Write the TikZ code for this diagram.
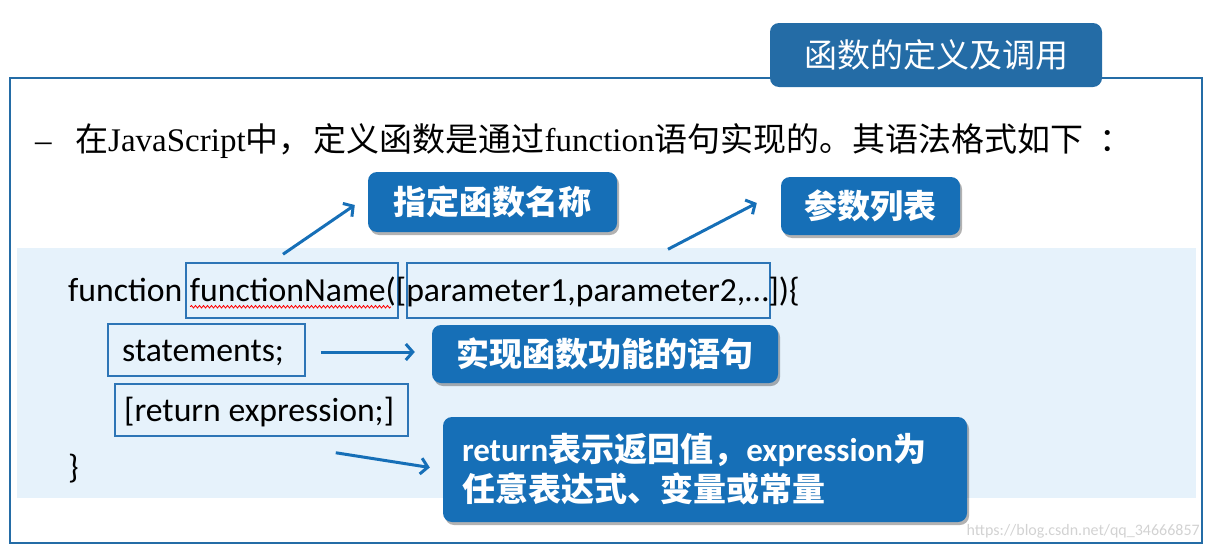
\documentclass[tikz,border=0pt]{standalone}
\usepackage{fontspec}
\setmainfont{Liberation Serif}
\newfontfamily\cjk{Noto Sans CJK SC}
\newfontfamily\calfont{Carlito}
\usetikzlibrary{arrows.meta,shadows,decorations.pathmorphing}
\definecolor{dblue}{RGB}{22,111,183}
\definecolor{frameblue}{RGB}{36,108,166}
\definecolor{band}{RGB}{230,242,251}
\definecolor{cbox}{RGB}{45,117,182}
\tikzset{
  callout/.style={fill=dblue, rounded corners=9pt, text=white, inner sep=0pt,
    font=\cjk\bfseries\fontsize{33}{40}\selectfont,
    drop shadow={shadow xshift=2pt, shadow yshift=-3pt, fill=black, opacity=0.3}},
  codebox/.style={draw=cbox, line width=1.5pt, inner sep=0pt},
  arr/.style={draw=dblue, line width=3pt, -{Straight Barb[length=7pt,width=16pt,line width=3pt]}},
  code/.style={font=\calfont\fontsize{33.7}{40}\selectfont, inner sep=0pt, anchor=base west},
}
\begin{document}
\begin{tikzpicture}[x=1pt,y=-1pt]
\useasboundingbox (0,0) rectangle (1216,554);
% frame and band
\draw[frameblue, line width=2pt] (10,78) rectangle (1202,543);
\fill[band] (17,248) rectangle (1196,498);
% title
\node[fill=frameblue, rounded corners=9pt, minimum width=332pt, minimum height=64pt, inner sep=0pt,
  text=white, font=\cjk\fontsize{33}{40}\selectfont] (title) at (936,55) {函数的定义及调用};
% intro line
\node[inner sep=0pt, anchor=base west, font=\fontsize{33}{40}\selectfont] (dash) at (35,151) {–};
\node[inner sep=0pt, anchor=base west, font=\fontsize{33}{40}\selectfont] (intro) at (75,151)
  {{\cjk 在}JavaScript{\cjk 中，}\hspace{2pt}{\cjk 定义函数是通过}function{\cjk 语句实现的。其语法格式如下}\hspace{16pt}{\cjk ：}};
% code boxes
\node[codebox, minimum width=212pt, minimum height=55pt] (fnbox) at (292,290.5) {};
\node[codebox, minimum width=363pt, minimum height=55pt] (parbox) at (588.5,290.5) {};
\node[codebox, minimum width=197pt, minimum height=52pt] (stbox) at (206.5,350) {};
\node[codebox, minimum width=293pt, minimum height=52pt] (retbox) at (261.5,410) {};
% code text
\node[code] (l1) at (68,301) {function functionName([parameter1,parameter2,…])\{};
\node[code] (l2) at (122,361) {statements;};
\node[code] (l3) at (124,421) {[return expression;]};
\node[code] (l4) at (68,478) {\}};
\draw[red, line width=0.8pt, decorate, decoration={snake, amplitude=1.3pt, segment length=4pt}]
  ([xshift=5pt,yshift=12pt]fnbox.south west) -- ([xshift=-8pt,yshift=12pt]fnbox.south east);
% callouts
\node[callout, minimum width=249pt, minimum height=60pt] (nameC) at (492.5,202) {指定函数名称};
\node[callout, minimum width=179pt, minimum height=58pt] (parC) at (870.5,206) {参数列表};
\node[callout, minimum width=346pt, minimum height=58pt] (implC) at (605,354) {实现函数功能的语句};
\node[callout, minimum width=524pt, minimum height=105pt, text width=486pt, align=left] (retC) at (705,469.5)
  {{\calfont\bfseries return}表示返回值，{\calfont\bfseries expression}为\\任意表达式、变量或常量};
% arrows
\draw[arr] ([xshift=-9pt,yshift=8pt]fnbox.north) -- ([xshift=-13pt,yshift=-3pt]nameC.west);
\draw[arr] ([xshift=79.5pt,yshift=13pt]parbox.north) -- ([xshift=-24pt,yshift=3pt]parC.west);
\draw[arr] ([xshift=15pt,yshift=-2pt]stbox.east) -- ([xshift=-17pt,yshift=2pt]implC.west);
\draw[arr] ([xshift=-73pt,yshift=-16pt]retbox.south east) -- ([xshift=-13pt,yshift=2pt]retC.west);
% watermark
\node[inner sep=0pt, anchor=east, text=gray!35, font=\calfont\fontsize{16}{18}\selectfont] (wm) at (1200,531) {https://blog.csdn.net/qq\_34666857};
\end{tikzpicture}
\end{document}
